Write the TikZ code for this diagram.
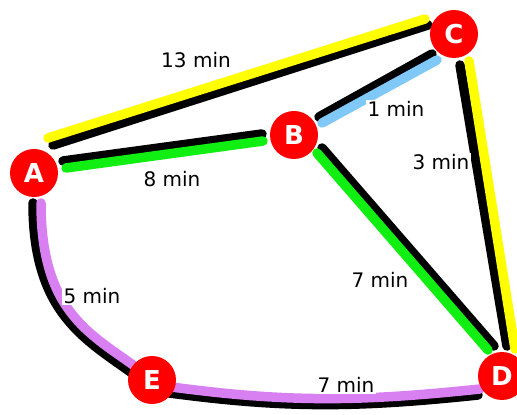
\documentclass[tikz,border=0pt]{standalone}
\usepackage{fontspec}
\setmainfont{DejaVu Sans}
\usetikzlibrary{calc,backgrounds}
\definecolor{townred}{HTML}{FF0000}
\definecolor{laneyellow}{HTML}{FFFF00}
\definecolor{lanegreen}{HTML}{11EE11}
\definecolor{laneblue}{HTML}{80C8F8}
\definecolor{lanepurple}{HTML}{D880F2}

\begin{document}
\begin{tikzpicture}[x=1pt, y=1pt,
        town/.style={circle, fill=townred, minimum size=48pt, inner sep=0pt, text=white, font=\fontsize{26}{26}\selectfont\bfseries},
        lane/.style={line width=9.5pt, line cap=round},
        weight/.style={fill=white, inner sep=1.5pt, font=\fontsize{20}{20}\selectfont}]
        \useasboundingbox (0,0) rectangle (517,415);

        % Towns
        \node (A) [town] at (34,242) {A};
        \node (B) [town] at (294,280) {B};
        \node (C) [town] at (454,381) {C};
        \node (D) [town] at (502,39) {D};
        \node (E) [town] at (152,35) {E};

        % Roads, black lane under a coloured lane
        \begin{scope}[on background layer]
        \draw[lane, black] ($(A)+(19,28)$) -- ($(C)+(-26,9)$);
        \draw[lane, laneyellow] ($(A)+(14,35)$) -- ($(C)+(-29,15)$);
        \draw[lane, black] ($(A)+(29,12)$) -- ($(B)+(-32,1)$);
        \draw[lane, lanegreen] ($(A)+(32,5)$) -- ($(B)+(-31,-6)$);
        \draw[lane, black] ($(B)+(25,18)$) -- ($(C)+(-22,-20)$);
        \draw[lane, laneblue] ($(B)+(28,12)$) -- ($(C)+(-17,-26)$);
        \draw[lane, black] ($(B)+(28,-13)$) -- ($(D)+(-8,30)$);
        \draw[lane, lanegreen] ($(B)+(23,-18)$) -- ($(D)+(-14,26)$);
        \draw[lane, black] ($(C)+(6,-31)$) -- ($(D)+(5,30)$);
        \draw[lane, laneyellow] ($(C)+(15,-27)$) -- ($(D)+(13,27)$);
        \draw[lane, black] ($(A)+(-1,-30)$) .. controls +(0,-112) and +(-49,36) .. ($(E)+(-16,4)$);
        \draw[lane, lanepurple] ($(A)+(7,-30)$) .. controls +(0,-110) and +(-49,36) .. ($(E)+(-12,10)$);
        \draw[lane, black] ($(E)+(3,-11)$) to[out=-8, in=186] ($(D)+(-24,-19)$);
        \draw[lane, lanepurple] ($(E)+(5,-5)$) to[out=-8, in=186] ($(D)+(-22,-13)$);
        \end{scope}

        % Travel times
        \node (tAC) [weight] at (196,355) {13 min};
        \node (tAB) [weight] at (172,236) {8 min};
        \node (tBC) [weight] at (396,306) {1 min};
        \node (tCD) [weight] at (441,253) {3 min};
        \node (tBD) [weight] at (380,135) {7 min};
        \node (tAE) [weight] at (92,119) {5 min};
        \node (tED) [weight] at (346,30) {7 min};
    \end{tikzpicture}
\end{document}
